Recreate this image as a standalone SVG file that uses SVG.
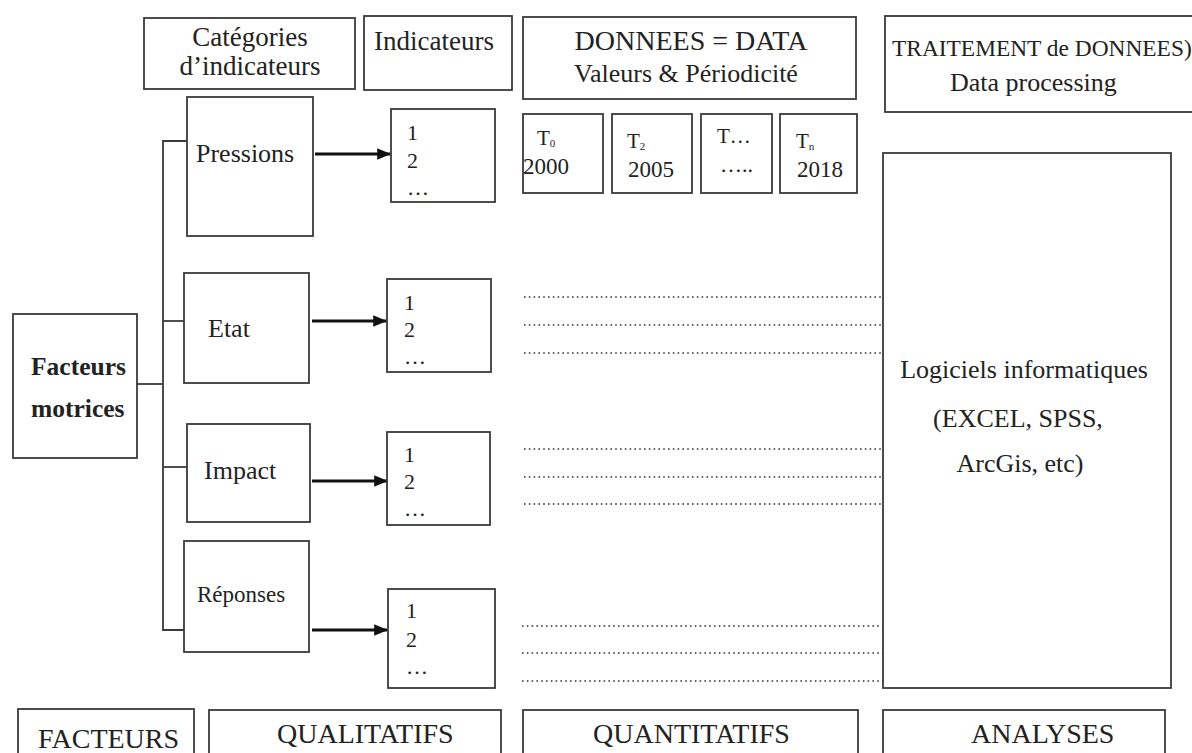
<svg xmlns="http://www.w3.org/2000/svg" width="1192" height="753" viewBox="0 0 1192 753">
<defs>
<style>
.box{fill:#fff;stroke:#3a3a3a;stroke-width:1.8}
.ln{fill:none;stroke:#3a3a3a;stroke-width:1.8}
.arr{fill:none;stroke:#111;stroke-width:3}
.dot{fill:none;stroke:#333;stroke-width:1.6;stroke-dasharray:1.6 3.2}
text{font-family:"Liberation Serif","Times New Roman",serif;fill:#222}
.h{font-size:27px}
.b{font-size:28px}
.c{font-size:26px}
.n{font-size:22px}
.t{font-size:21px}
.y{font-size:23px}
</style>
<marker id="ah" viewBox="0 0 12 10" refX="11" refY="5" markerWidth="14" markerHeight="12" markerUnits="userSpaceOnUse" orient="auto">
<path d="M0,0 L12,5 L0,10 z" fill="#111"/>
</marker>
</defs>
<rect width="1192" height="753" fill="#fff"/>

<g id="header-categories"><rect class="box" x="144" y="18" width="211" height="71"/><text class="h" x="250" y="46" text-anchor="middle">Catégories</text><text class="h" x="250" y="75" text-anchor="middle">d’indicateurs</text></g>
<g id="header-indicateurs"><rect class="box" x="364" y="16" width="148" height="74"/><text class="h" x="374" y="50">Indicateurs</text></g>
<g id="header-donnees"><rect class="box" x="523" y="17" width="333" height="82"/><text class="b" x="691" y="50" text-anchor="middle">DONNEES = DATA</text><text class="c" x="686" y="82" text-anchor="middle">Valeurs &amp; Périodicité</text></g>
<g id="header-traitement"><rect class="box" x="885" y="16" width="320" height="96"/><text x="892" y="56" style="font-size:23.4px">TRAITEMENT de DONNEES)</text><text class="c" x="950" y="91">Data processing</text></g>

<g id="connectors">
<path class="ln" d="M187,141 H163 V630 H184"/>
<path class="ln" d="M137,384 H163"/>
<path class="ln" d="M163,321 H184"/>
<path class="ln" d="M163,467 H187"/>
<line class="arr" x1="315" y1="154" x2="390" y2="154" marker-end="url(#ah)"/>
<line class="arr" x1="312" y1="321" x2="386" y2="321" marker-end="url(#ah)"/>
<line class="arr" x1="312" y1="481" x2="387" y2="481" marker-end="url(#ah)"/>
<line class="arr" x1="312" y1="630" x2="387" y2="630" marker-end="url(#ah)"/>
<line class="dot" x1="524" y1="297" x2="883" y2="297"/>
<line class="dot" x1="524" y1="325" x2="883" y2="325"/>
<line class="dot" x1="524" y1="353" x2="883" y2="353"/>
<line class="dot" x1="524" y1="449" x2="883" y2="449"/>
<line class="dot" x1="524" y1="477" x2="883" y2="477"/>
<line class="dot" x1="524" y1="504" x2="883" y2="504"/>
<line class="dot" x1="522" y1="626" x2="883" y2="626"/>
<line class="dot" x1="522" y1="653" x2="883" y2="653"/>
<line class="dot" x1="522" y1="681" x2="883" y2="681"/>
</g>

<g id="facteurs-motrices"><rect class="box" x="13" y="314" width="124" height="144"/><text x="31" y="375" style="font-size:25.5px;font-weight:bold">Facteurs</text><text x="31" y="417" style="font-size:25.5px;font-weight:bold">motrices</text></g>
<g id="pressions"><rect class="box" x="187" y="97" width="126" height="139"/><text class="c" x="196" y="162">Pressions</text></g>
<g id="etat"><rect class="box" x="184" y="273" width="125" height="110"/><text class="c" x="208" y="337">Etat</text></g>
<g id="impact"><rect class="box" x="187" y="424" width="123" height="98"/><text class="c" x="204" y="479">Impact</text></g>
<g id="reponses"><rect class="box" x="184" y="541" width="125" height="111"/><text x="197" y="602" style="font-size:23px">Réponses</text></g>

<g id="ind-1"><rect class="box" x="391" y="109" width="104" height="93"/><text class="n" x="407" y="140">1</text><text class="n" x="407" y="168">2</text><text class="n" x="407" y="195">…</text></g>
<g id="ind-2"><rect class="box" x="387" y="279" width="104" height="93"/><text class="n" x="404" y="310">1</text><text class="n" x="404" y="337">2</text><text class="n" x="404" y="364">…</text></g>
<g id="ind-3"><rect class="box" x="387" y="432" width="103" height="93"/><text class="n" x="404" y="462">1</text><text class="n" x="404" y="489">2</text><text class="n" x="404" y="516">…</text></g>
<g id="ind-4"><rect class="box" x="388" y="589" width="107" height="99"/><text class="n" x="406" y="618">1</text><text class="n" x="406" y="647">2</text><text class="n" x="406" y="674">…</text></g>

<g id="t0"><rect class="box" x="523" y="114" width="80" height="79"/><text class="t" x="537" y="145">T<tspan style="font-size:11px" dy="2">0</tspan></text><text class="y" x="523" y="174">2000</text></g>
<g id="t2"><rect class="box" x="612" y="114" width="80" height="79"/><text class="t" x="627" y="148">T<tspan style="font-size:11px" dy="2">2</tspan></text><text class="y" x="628" y="177">2005</text></g>
<g id="tdots"><rect class="box" x="701" y="114" width="71" height="79"/><text class="t" x="717" y="143">T…</text><text class="n" x="720" y="172">…..</text></g>
<g id="tn"><rect class="box" x="780" y="114" width="77" height="79"/><text class="t" x="796" y="148">T<tspan style="font-size:11px" dy="2">n</tspan></text><text class="y" x="797" y="177">2018</text></g>

<g id="logiciels"><rect class="box" x="883" y="153" width="288" height="535"/><text class="c" x="1024" y="378" text-anchor="middle">Logiciels informatiques</text><text class="c" x="1018" y="427" text-anchor="middle">(EXCEL, SPSS,</text><text class="c" x="1020" y="472" text-anchor="middle">ArcGis, etc)</text></g>

<g id="footer-facteurs"><rect class="box" x="18" y="709" width="176" height="60"/><text class="b" x="38" y="748">FACTEURS</text></g>
<g id="footer-qualitatifs"><rect class="box" x="209" y="710" width="292" height="60"/><text class="b" x="277" y="743">QUALITATIFS</text></g>
<g id="footer-quantitatifs"><rect class="box" x="523" y="710" width="335" height="60"/><text class="b" x="593" y="743">QUANTITATIFS</text></g>
<g id="footer-analyses"><rect class="box" x="883" y="710" width="282" height="60"/><text class="b" x="971" y="743">ANALYSES</text></g>
</svg>
